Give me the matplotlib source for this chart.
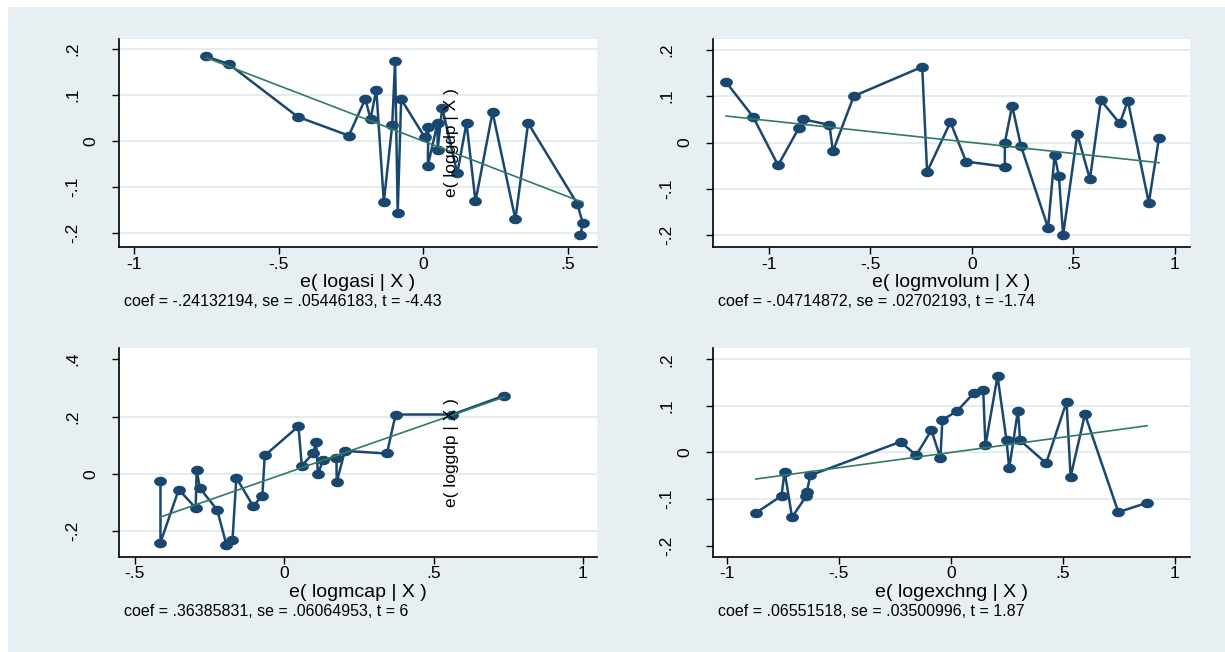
import numpy as np
import matplotlib.pyplot as plt
from matplotlib.path import Path
from matplotlib.patches import Rectangle

plt.rcParams['font.family'] = ['Liberation Sans', 'DejaVu Sans']

# added-variable plots for loggdp, points kept in data order
asi_x = [-0.752, -0.674, -0.435, -0.258, -0.201, -0.183, -0.163, -0.137, -0.108, -0.098,
         -0.089, -0.077, 0.005, 0.017, 0.015, 0.049, 0.049, 0.065, 0.117, 0.149,
         0.180, 0.239, 0.318, 0.362, 0.532, 0.551, 0.543]
asi_y = [0.184, 0.168, 0.053, 0.012, 0.092, 0.048, 0.112, -0.132, 0.035, 0.174,
         -0.156, 0.091, 0.008, 0.031, -0.054, 0.040, -0.019, 0.073, -0.070, 0.040,
         -0.131, 0.063, -0.170, 0.039, -0.136, -0.178, -0.204]
asi_coef = -0.24132194

mvolum_x = [-1.210, -1.078, -0.954, -0.852, -0.831, -0.701, -0.684, -0.581, -0.244, -0.220,
            -0.105, -0.028, 0.163, 0.163, 0.199, 0.242, 0.376, 0.408, 0.429, 0.450,
            0.520, 0.582, 0.636, 0.729, 0.769, 0.872, 0.922]
mvolum_y = [0.130, 0.056, -0.049, 0.031, 0.050, 0.038, -0.019, 0.100, 0.163, -0.063,
            0.044, -0.041, -0.052, 0.000, 0.079, -0.007, -0.184, -0.027, -0.072, -0.199,
            0.018, -0.079, 0.091, 0.041, 0.090, -0.130, 0.009]
mvolum_coef = -0.04714872

mcap_x = [-0.414, -0.414, -0.353, -0.296, -0.293, -0.282, -0.224, -0.193, -0.173, -0.160,
          -0.104, -0.073, -0.065, 0.048, 0.059, 0.097, 0.107, 0.113, 0.130, 0.175,
          0.176, 0.203, 0.344, 0.373, 0.563, 0.737]
mcap_y = [-0.026, -0.240, -0.055, -0.119, 0.014, -0.050, -0.126, -0.249, -0.232, -0.014,
          -0.112, -0.077, 0.064, 0.166, 0.028, 0.072, 0.111, -0.002, 0.049, 0.056,
          -0.029, 0.080, 0.071, 0.207, 0.207, 0.273]
mcap_coef = 0.36385831

exchng_x = [-0.870, -0.755, -0.741, -0.708, -0.644, -0.642, -0.626, -0.224, -0.154, -0.086,
            -0.046, -0.037, 0.029, 0.102, 0.145, 0.155, 0.209, 0.249, 0.261, 0.300,
            0.310, 0.426, 0.517, 0.535, 0.599, 0.748, 0.876]
exchng_y = [-0.130, -0.093, -0.041, -0.139, -0.093, -0.084, -0.049, 0.023, -0.006, 0.048,
            -0.012, 0.070, 0.089, 0.127, 0.135, 0.015, 0.164, 0.026, -0.034, 0.090,
            0.026, -0.023, 0.109, -0.052, 0.082, -0.128, -0.108]
exchng_coef = 0.06551518

x_labels = ['e( logasi | X )', 'e( logmvolum | X )', 'e( logmcap | X )', 'e( logexchng | X )']
notes = ['coef = -.24132194, se = .05446183, t = -4.43',
         'coef = -.04714872, se = .02702193, t = -1.74',
         'coef = .36385831, se = .06064953, t = 6',
         'coef = .06551518, se = .03500996, t = 1.87']
y_label = 'e( loggdp | X )'

x_ticks = [[-1, -0.5, 0, 0.5], [-1, -0.5, 0, 0.5, 1], [-0.5, 0, 0.5, 1], [-1, -0.5, 0, 0.5, 1]]
x_ticklabels = [['-1', '-.5', '0', '.5'], ['-1', '-.5', '0', '.5', '1'],
                ['-.5', '0', '.5', '1'], ['-1', '-.5', '0', '.5', '1']]
y_ticks = [[-0.2, -0.1, 0, 0.1, 0.2], [-0.2, -0.1, 0, 0.1, 0.2],
           [-0.2, 0, 0.2, 0.4], [-0.2, -0.1, 0, 0.1, 0.2]]
y_ticklabels = [['-.2', '-.1', '0', '.1', '.2'], ['-.2', '-.1', '0', '.1', '.2'],
                ['-.2', '0', '.2', '.4'], ['-.2', '-.1', '0', '.1', '.2']]
grid_vals = [[-0.2, -0.1, 0, 0.1, 0.2], [-0.2, -0.1, 0, 0.1, 0.2],
             [-0.2, 0, 0.2], [-0.1, 0, 0.1, 0.2]]

bg = '#e8eff2'
navy = '#1a476f'
green = '#317a63'

fig = plt.figure(figsize=(12.25, 6.52), dpi=100, facecolor='white')
fig.patches.append(Rectangle((8 / 1225, 0), 1, 1 - 7 / 652, transform=fig.transFigure,
                             facecolor=bg, edgecolor='none', zorder=-10))

# stretched circle marker like the original
t = np.linspace(0, 2 * np.pi, 41)
oval = Path(np.column_stack([1.4 * np.cos(t), np.sin(t)]), closed=True)

panels = [
    (asi_x, asi_y, asi_coef, [0.0971, 0.6212, 0.3902, 0.3190], (-1.053, 0.600), (-0.230, 0.222)),
    (mvolum_x, mvolum_y, mvolum_coef, [0.5818, 0.6212, 0.3893, 0.3190], (-1.276, 1.073), (-0.225, 0.223)),
    (mcap_x, mcap_y, mcap_coef, [0.0971, 0.1462, 0.3902, 0.3196], (-0.553, 1.047), (-0.289, 0.438)),
    (exchng_x, exchng_y, exchng_coef, [0.5818, 0.1462, 0.3893, 0.3196], (-1.062, 1.066), (-0.2236, 0.2236)),
]

for i, (xs, ys, coef, rect, xlim, ylim) in enumerate(panels):
    ax = fig.add_axes(rect)
    ax.set_facecolor('white')
    ax.set_xlim(*xlim)
    ax.set_ylim(*ylim)

    for g in grid_vals[i]:
        ax.axhline(g, color='#e3ecee', lw=1.5, zorder=0)

    ax.plot(xs, ys, color=navy, lw=1.8, marker=oval, ms=8.2, zorder=2)

    # fitted line y = coef * x over the range of the data
    fx = np.array([min(xs), max(xs)])
    ax.plot(fx, coef * fx, color=green, lw=1.2, zorder=3)

    for side in ['top', 'right']:
        ax.spines[side].set_visible(False)
    for side in ['left', 'bottom']:
        ax.spines[side].set_linewidth(1.2)

    ax.set_xticks(x_ticks[i])
    ax.set_xticklabels(x_ticklabels[i], fontsize=12.5)
    ax.set_yticks(y_ticks[i])
    ax.set_yticklabels([])
    ax.tick_params(direction='out', length=5, width=1, pad=2)

    # rotated y tick labels, the zero sits closer to the axis in the original
    for v, lab in zip(y_ticks[i], y_ticklabels[i]):
        xpos = -0.059 if lab == '0' else -0.097
        ax.text(xpos, v, lab, transform=ax.get_yaxis_transform(), rotation=90,
                ha='center', va='center', fontsize=12.5, clip_on=False)

    ax.set_xlabel(x_labels[i], fontsize=14)
    ax.xaxis.set_label_coords(0.5, -36 / 208)
    ax.xaxis.label.set_va('center')

    ax.text(5 / 478, -55 / 208, notes[i], transform=ax.transAxes, ha='left', va='center',
            fontsize=11.5)

    # y axis title ends up inside the left panels
    if i in (0, 2):
        ax.text(0.696, 0.5, y_label, transform=ax.transAxes, rotation=90,
                ha='center', va='center', fontsize=12.5, zorder=5)

fig.savefig('out.png', dpi=100, facecolor=fig.get_facecolor())
